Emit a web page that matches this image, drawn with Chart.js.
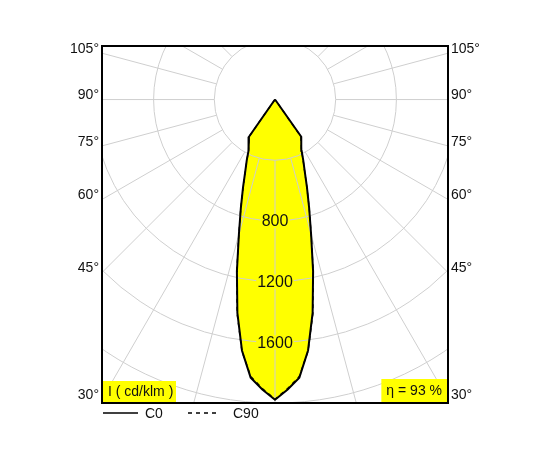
<!DOCTYPE html>
<html>
<head>
<meta charset="utf-8">
<script src="https://cdn.jsdelivr.net/npm/chart.js@4.4.1/dist/chart.umd.min.js"></script>
<style>
  html, body { margin: 0; padding: 0; background: #fff; }
  #wrap { width: 550px; height: 450px; }
</style>
</head>
<body>
<div id="wrap"><canvas id="myViz"></canvas></div>
<script>
// Gamma angles from nadir, degrees
const gammaAngles = [0, 2.5, 5, 7.5, 10, 12.5, 15, 17.5, 20, 22.5, 25, 27.5, 30, 32.5, 35, 37.5, 40];
// Luminous intensity, cd/klm (mirrored for C180 / C270)
const c0Values  = [1978, 1913, 1840, 1668, 1428, 1160, 919, 748, 616, 512, 440, 380, 349, 322, 299, 12, 0];
const c90Values = [1975, 1906, 1832, 1672, 1436, 1165, 922, 750, 614, 510, 438, 378, 347, 320, 297, 10, 0];
const planeNames = ['C0', 'C90'];

// Polar grid
const ringValues = [400, 800, 1200, 1600, 2000];
const ringLabels = [800, 1200, 1600];
const spokeAngles = [0, 15, 30, 45, 60, 75, 90, 105, 120, 135, 150, 165, 180, 195, 210, 225, 240, 255, 270, 285, 300, 315, 330, 345];
const sideAngles = [105, 90, 75, 60, 45, 30];

const unitLabel = 'I ( cd/klm )';
const efficiencyLabel = 'η = 93 %';

// Axis ranges (cd/klm)
const xHalf = 1140;
const yMin = -2000;
const yMax = 353;

const FONT = "'Liberation Sans', Arial, sans-serif";
const rad = (d) => d * Math.PI / 180;

// полуплоскость слева + справа -> замкнутый контур
const planeToPoints = (values) => {
  const pts = [];
  for (let i = values.length - 1; i >= 0; i--) {
    pts.push({ x: -values[i] * Math.sin(rad(gammaAngles[i])), y: -values[i] * Math.cos(rad(gammaAngles[i])) });
  }
  for (let i = 1; i < values.length; i++) {
    pts.push({ x: values[i] * Math.sin(rad(gammaAngles[i])), y: -values[i] * Math.cos(rad(gammaAngles[i])) });
  }
  return pts;
};

const polarPlugin = {
  id: 'polarPlugin',
  beforeDatasetsDraw(chart) {
    const { ctx, chartArea: a } = chart;
    const xs = chart.scales.x, ys = chart.scales.y;
    const cx = xs.getPixelForValue(0), cy = ys.getPixelForValue(0);
    const k = Math.abs(xs.getPixelForValue(1000) - cx) / 1000;

    ctx.save();
    ctx.beginPath();
    ctx.rect(a.left, a.top, a.right - a.left, a.bottom - a.top);
    ctx.clip();

    // жёлтая заливка по точкам C0
    const meta = chart.getDatasetMeta(0);
    ctx.beginPath();
    meta.data.forEach((p, i) => (i ? ctx.lineTo(p.x, p.y) : ctx.moveTo(p.x, p.y)));
    ctx.closePath();
    ctx.fillStyle = '#ffff00';
    ctx.fill();

    // сетка
    ctx.strokeStyle = '#cfcfcf';
    ctx.lineWidth = 1;
    ringValues.forEach(r => {
      ctx.beginPath();
      ctx.arc(cx, cy, r * k, 0, Math.PI * 2);
      ctx.stroke();
    });
    const r0 = ringValues[0] * k;
    spokeAngles.forEach(g => {
      const sx = Math.sin(rad(g)), sy = Math.cos(rad(g));
      ctx.beginPath();
      ctx.moveTo(cx + sx * r0, cy + sy * r0);
      ctx.lineTo(cx + sx * 800, cy + sy * 800);
      ctx.stroke();
    });
    ctx.restore();
  },
  afterDatasetsDraw(chart) {
    const { ctx, chartArea: a } = chart;
    const xs = chart.scales.x, ys = chart.scales.y;
    const cx = xs.getPixelForValue(0);

    ctx.save();
    ctx.textBaseline = 'middle';

    // подписи колец
    ctx.font = '16px ' + FONT;
    ctx.textAlign = 'center';
    ringLabels.forEach(r => {
      const y = ys.getPixelForValue(-r);
      const w = ctx.measureText(String(r)).width + 2;
      ctx.fillStyle = '#ffff00';
      ctx.fillRect(cx - w / 2, y - 7, w, 14);
      ctx.fillStyle = '#111';
      ctx.fillText(String(r), cx, y + 1);
    });

    // плашки внизу
    ctx.font = '14px ' + FONT;
    ctx.textAlign = 'left';
    ctx.fillStyle = '#ffff00';
    ctx.fillRect(a.left + 1, a.bottom - 22, 73, 21);
    ctx.fillStyle = '#111';
    ctx.fillText(unitLabel, a.left + 6, a.bottom - 11);

    ctx.textAlign = 'right';
    const ew = ctx.measureText(efficiencyLabel).width + 10;
    ctx.fillStyle = '#ffff00';
    ctx.fillRect(a.right - 1 - ew, a.bottom - 24, ew, 23);
    ctx.fillStyle = '#111';
    ctx.fillText(efficiencyLabel, a.right - 6, a.bottom - 12);

    // рамка
    ctx.strokeStyle = '#000';
    ctx.lineWidth = 2;
    ctx.strokeRect(a.left, a.top, a.right - a.left, a.bottom - a.top);

    // легенда
    const ly = a.bottom + 10;
    ctx.lineWidth = 1.5;
    ctx.beginPath();
    ctx.moveTo(a.left + 1, ly);
    ctx.lineTo(a.left + 36, ly);
    ctx.stroke();
    ctx.setLineDash([4, 4]);
    ctx.beginPath();
    ctx.moveTo(a.left + 86, ly);
    ctx.lineTo(a.left + 116, ly);
    ctx.stroke();
    ctx.setLineDash([]);
    ctx.font = '14px ' + FONT;
    ctx.textAlign = 'left';
    ctx.fillStyle = '#111';
    ctx.fillText(planeNames[0], a.left + 43, ly + 1);
    ctx.fillText(planeNames[1], a.left + 131, ly + 1);
    ctx.restore();
  }
};

const sideAxis = (position) => ({
  type: 'linear',
  position: position,
  min: yMin,
  max: yMax,
  grid: { display: false, drawTicks: false },
  border: { display: false },
  afterBuildTicks: (scale) => {
    scale.ticks = sideAngles.map(g => ({ value: -xHalf / Math.tan(rad(g)) }));
  },
  afterFit: (scale) => { scale.width = 102; },
  ticks: {
    autoSkip: false,
    padding: 3,
    labelOffset: -4,
    color: '#111',
    font: { family: FONT, size: 14 },
    callback: (v, i) => sideAngles[i] + '°'
  }
});

new Chart(document.getElementById('myViz'), {
  type: 'scatter',
  data: {
    datasets: [
      {
        label: planeNames[0],
        data: planeToPoints(c0Values),
        showLine: true,
        borderColor: '#000',
        borderWidth: 2,
        pointRadius: 0,
        yAxisID: 'y'
      },
      {
        label: planeNames[1],
        data: planeToPoints(c90Values),
        showLine: true,
        borderColor: '#000',
        borderWidth: 1.3,
        borderDash: [4, 4],
        pointRadius: 0,
        yAxisID: 'y'
      }
    ]
  },
  options: {
    responsive: true,
    maintainAspectRatio: false,
    animation: false,
    layout: { padding: { top: 46, bottom: 47, left: 0, right: 0 } },
    scales: {
      x: { type: 'linear', min: -xHalf, max: xHalf, display: false },
      y: sideAxis('left'),
      y2: sideAxis('right')
    },
    plugins: {
      legend: { display: false },
      tooltip: { enabled: false }
    }
  },
  plugins: [polarPlugin]
});
</script>
</body>
</html>
